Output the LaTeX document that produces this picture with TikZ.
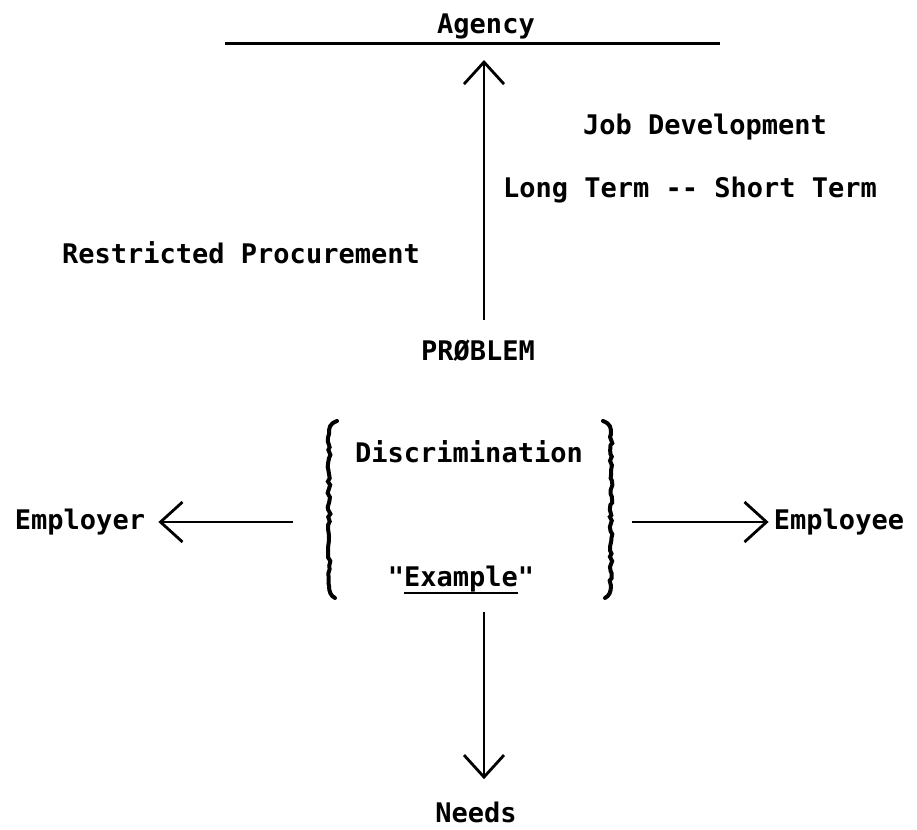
\documentclass[tikz,border=0pt]{standalone}
\usepackage{fontspec}
\setmonofont{DejaVu Sans Mono}
\usetikzlibrary{arrows.meta,decorations.pathmorphing}
\newcommand\typeul[1]{\setbox0\hbox{#1}\rlap{\rule[-3.6pt]{\wd0}{1.1pt}}\box0}
\begin{document}
\begin{tikzpicture}[x=0.5pt,y=-0.5pt]
\tikzstyle{every node}+=[inner sep=0pt, font=\ttfamily\bfseries\fontsize{13.5}{16}\selectfont]
\tikzstyle{barb}=[-{Straight Barb[length=11pt,width=20pt]}, line width=1.4pt]
\tikzstyle{brace}=[line width=2pt, line cap=round]
\tikzstyle{ragged}=[brace, decorate, decoration={random steps, segment length=2pt, amplitude=0.7pt}]
\useasboundingbox (0,0) rectangle (917,830);
\node (agency) at (486,26) {Agency};
\coordinate (line w) at (225,43);
\coordinate (line e) at (720,43);
\draw [line width=1.5pt] (line w) -- (line e);
\node (jobdev) at (705,127) {Job Development};
\node (term) at (690,190) {Long Term -- Short Term};
\node (restricted) at (241,253) {Restricted Procurement};
\node (problem) at (478,351) {PRØBLEM};
\node (discrim) at (469,452) {Discrimination};
\node (example) at (461,580) {"\typeul{Example}"};
\node (employer) at (80,522) {Employer};
\node (employee) at (839,522) {Employee};
\node (needs) at (476,812) {Needs};
\coordinate (up tail) at (484,320);
\coordinate (down tail) at (484,612);
\coordinate (left tail) at (293,522);
\coordinate (right tail) at (632,522);
\draw [barb, shorten >=8.5pt] (up tail) -- (up tail |- line w);
\draw [barb, shorten >=11pt] (down tail) -- (down tail |- needs.north);
\draw [barb, shorten >=6.5pt] (left tail) -- (employer.east);
\draw [barb, shorten >=2.5pt] (right tail) -- (employee.west);
% braces round the problem
\draw [brace] (337,421) .. controls (329,424) and (329,428) .. (329,434);
\draw [ragged] (329,434) -- (329,586);
\draw [brace] (329,586) .. controls (329,592) and (331,596) .. (335,598);
\draw [brace] (603,421) .. controls (611,424) and (611,428) .. (611,434);
\draw [ragged] (611,434) -- (611,586);
\draw [brace] (611,586) .. controls (611,592) and (609,596) .. (605,598);
\end{tikzpicture}
\end{document}
